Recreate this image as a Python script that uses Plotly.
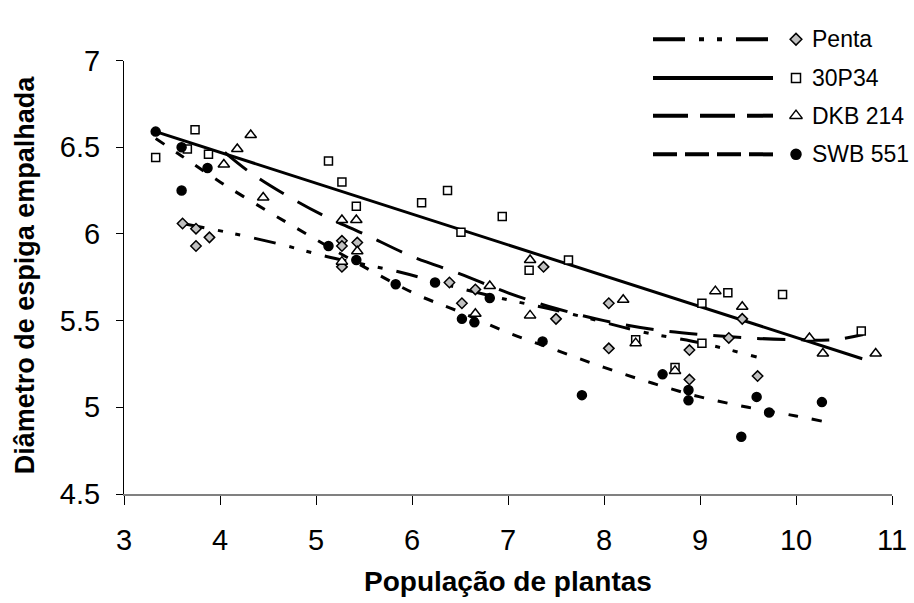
import plotly.graph_objects as go

# ---------------- data ----------------
penta_x = [3.61, 3.75, 3.75, 3.89, 5.27, 5.27, 5.43, 5.27, 6.39, 6.66, 6.52, 7.37, 7.50,
           8.05, 8.05, 9.44, 9.30, 8.89, 8.89, 9.60]
penta_y = [6.06, 6.03, 5.93, 5.98, 5.96, 5.93, 5.95, 5.81, 5.72, 5.68, 5.60, 5.81, 5.51,
           5.60, 5.34, 5.51, 5.40, 5.33, 5.16, 5.18]

p30_x = [3.33, 3.74, 3.66, 3.88, 5.13, 5.27, 5.42, 6.10, 6.37, 6.51, 6.94, 7.22, 7.63,
         8.33, 8.74, 9.02, 9.02, 9.29, 9.86, 10.68]
p30_y = [6.44, 6.60, 6.49, 6.46, 6.42, 6.30, 6.16, 6.18, 6.25, 6.01, 6.10, 5.79, 5.85,
         5.39, 5.23, 5.60, 5.37, 5.66, 5.65, 5.44]

dkb_x = [4.04, 4.18, 4.32, 4.45, 5.27, 5.42, 5.43, 5.27, 6.81, 6.66, 7.23, 7.23, 8.20,
         8.33, 8.74, 9.16, 9.44, 10.14, 10.28, 10.83]
dkb_y = [6.40, 6.49, 6.57, 6.21, 6.08, 6.08, 5.90, 5.84, 5.70, 5.54, 5.85, 5.53, 5.62,
         5.37, 5.21, 5.67, 5.58, 5.40, 5.31, 5.31]

swb_x = [3.33, 3.60, 3.87, 3.60, 5.13, 5.42, 5.83, 6.24, 6.81, 6.52, 6.65, 7.36, 7.77,
         8.61, 8.88, 8.88, 9.59, 9.72, 9.43, 10.27]
swb_y = [6.59, 6.50, 6.38, 6.25, 5.93, 5.85, 5.71, 5.72, 5.63, 5.51, 5.49, 5.38, 5.07,
         5.19, 5.10, 5.04, 5.06, 4.97, 4.83, 5.03]

# trend lines as drawn in the picture
penta_tx = [3.61, 4.07, 4.63, 5.11, 5.87, 6.40, 7.0, 7.5, 8.0, 8.44, 9.02, 9.59]
penta_ty = [6.06, 6.01, 5.94, 5.87, 5.78, 5.70, 5.62, 5.56, 5.49, 5.43, 5.37, 5.29]

p30_tx = [3.33, 10.69]
p30_ty = [6.59, 5.28]

dkb_tx = [4.05, 4.3, 4.7, 5.1, 5.5, 6.0, 6.5, 7.0, 7.5, 8.0, 8.5, 9.0, 9.5, 10.0, 10.4, 10.7]
dkb_ty = [6.47, 6.36, 6.22, 6.10, 6.00, 5.87, 5.77, 5.66, 5.57, 5.50, 5.45, 5.42, 5.40, 5.39, 5.39, 5.42]

swb_tx = [3.33, 3.6, 4.0, 4.5, 4.9, 5.5, 6.05, 6.5, 7.0, 7.5, 8.0, 8.5, 9.0, 9.5, 10.0, 10.27]
swb_ty = [6.55, 6.45, 6.30, 6.13, 6.00, 5.81, 5.65, 5.55, 5.43, 5.33, 5.23, 5.14, 5.06, 5.00, 4.95, 4.92]

series_names = ["Penta", "30P34", "DKB 214", "SWB 551"]
x_ticks = [3, 4, 5, 6, 7, 8, 9, 10, 11]
y_ticks = [4.5, 5, 5.5, 6, 6.5, 7]

# ---------------- styles ----------------
W, H = 914, 603
L, R, B = 124, 22, 109
PLOT_TOP = 46
AREA_H = H - B              # height of paper area (top margin 0)
PW = W - L - R
FONT = "Liberation Sans, Arial, sans-serif"

styles = [
    dict(sym="diamond", size=8, fill="#C0C0C0", dash="22px,14px,5px,13px,5px,14px",
         ldash="32px,14px,5px,13px,5px,14px"),
    dict(sym="square", size=8, fill="white", dash="solid", ldash="solid"),
    dict(sym="triangle-up", size=10, fill="white", dash="28px,16px", ldash="35px,12px"),
    dict(sym="circle", size=9, fill="black", dash="10px,14px", ldash="24px,8px"),
]
pts = [(penta_x, penta_y), (p30_x, p30_y), (dkb_x, dkb_y), (swb_x, swb_y)]
trends = [(penta_tx, penta_ty), (p30_tx, p30_ty), (dkb_tx, dkb_ty), (swb_tx, swb_ty)]

fig = go.Figure()

for (tx, ty), st in zip(trends, styles):
    fig.add_trace(go.Scatter(x=tx, y=ty, mode="lines", showlegend=False,
                             line=dict(color="black", width=3, dash=st["dash"], shape="spline"),
                             hoverinfo="skip"))

for (px, py), st, nm in zip(pts, styles, series_names):
    fig.add_trace(go.Scatter(x=px, y=py, mode="markers", name=nm, showlegend=False,
                             cliponaxis=False,
                             marker=dict(symbol=st["sym"], size=st["size"], color=st["fill"],
                                         line=dict(color="black", width=1.5))))

# ---------------- manual legend (pixel overlay axes) ----------------
leg_rows = [24, 64, 103, 143]
leg_x0, leg_x1, leg_mx, leg_tx = 653, 773, 796, 810
for row, st, nm in zip(leg_rows, styles, series_names):
    fig.add_shape(type="line", xref="x2", yref="y2", x0=leg_x0, x1=leg_x1, y0=row, y1=row,
                  line=dict(color="black", width=4, dash=st["ldash"]))
    fig.add_trace(go.Scatter(x=[leg_mx], y=[row], xaxis="x2", yaxis="y2", mode="markers",
                             showlegend=False, cliponaxis=False, hoverinfo="skip",
                             marker=dict(symbol=st["sym"], size=st["size"] + 1, color=st["fill"],
                                         line=dict(color="black", width=1.5))))
    fig.add_annotation(xref="x2", yref="y2", x=leg_tx, y=row, text=nm, showarrow=False,
                       xanchor="left", yanchor="middle",
                       font=dict(family=FONT, size=23, color="black"))

# axis titles
fig.add_annotation(xref="paper", yref="paper", x=0.5, y=-(584 - AREA_H) / AREA_H,
                   text="<b>População de plantas</b>", showarrow=False,
                   xanchor="center", yanchor="middle",
                   font=dict(family=FONT, size=28, color="black"))
fig.add_annotation(xref="paper", yref="paper", x=(25 - L) / PW, y=(AREA_H - 268) / AREA_H,
                   text="<b>Diâmetro de espiga empalhada</b>", showarrow=False, textangle=-90,
                   xanchor="center", yanchor="middle",
                   font=dict(family=FONT, size=27, color="black"))

fig.update_layout(
    width=W, height=H,
    margin=dict(l=L, r=R, t=0, b=B),
    paper_bgcolor="white", plot_bgcolor="rgba(0,0,0,0)",
    font=dict(family=FONT, color="black"),
    showlegend=False,
    xaxis=dict(range=[3, 11], tickvals=x_ticks, showline=True, linecolor="#808080", linewidth=2,
               ticks="outside", ticklen=9, tickcolor="black", tickwidth=1,
               showgrid=False, zeroline=False, tickfont=dict(size=29, family=FONT),
               ticklabelstandoff=10),
    yaxis=dict(range=[4.5, 7], tickvals=y_ticks, showline=True, linecolor="black", linewidth=1,
               domain=[0, (AREA_H - PLOT_TOP) / AREA_H],
               ticks="outside", ticklen=7, tickcolor="black", tickwidth=1,
               showgrid=False, zeroline=False, tickfont=dict(size=29, family=FONT),
               ticklabelstandoff=10),
    xaxis2=dict(range=[L, W - R], overlaying="x", visible=False, fixedrange=True),
    yaxis2=dict(range=[AREA_H, 0], domain=[0, 1], anchor="x2", visible=False, fixedrange=True),
)

fig.write_html("out.html", config={"displayModeBar": False},
               post_script="document.body.style.margin='0';document.body.style.overflow='hidden';")
